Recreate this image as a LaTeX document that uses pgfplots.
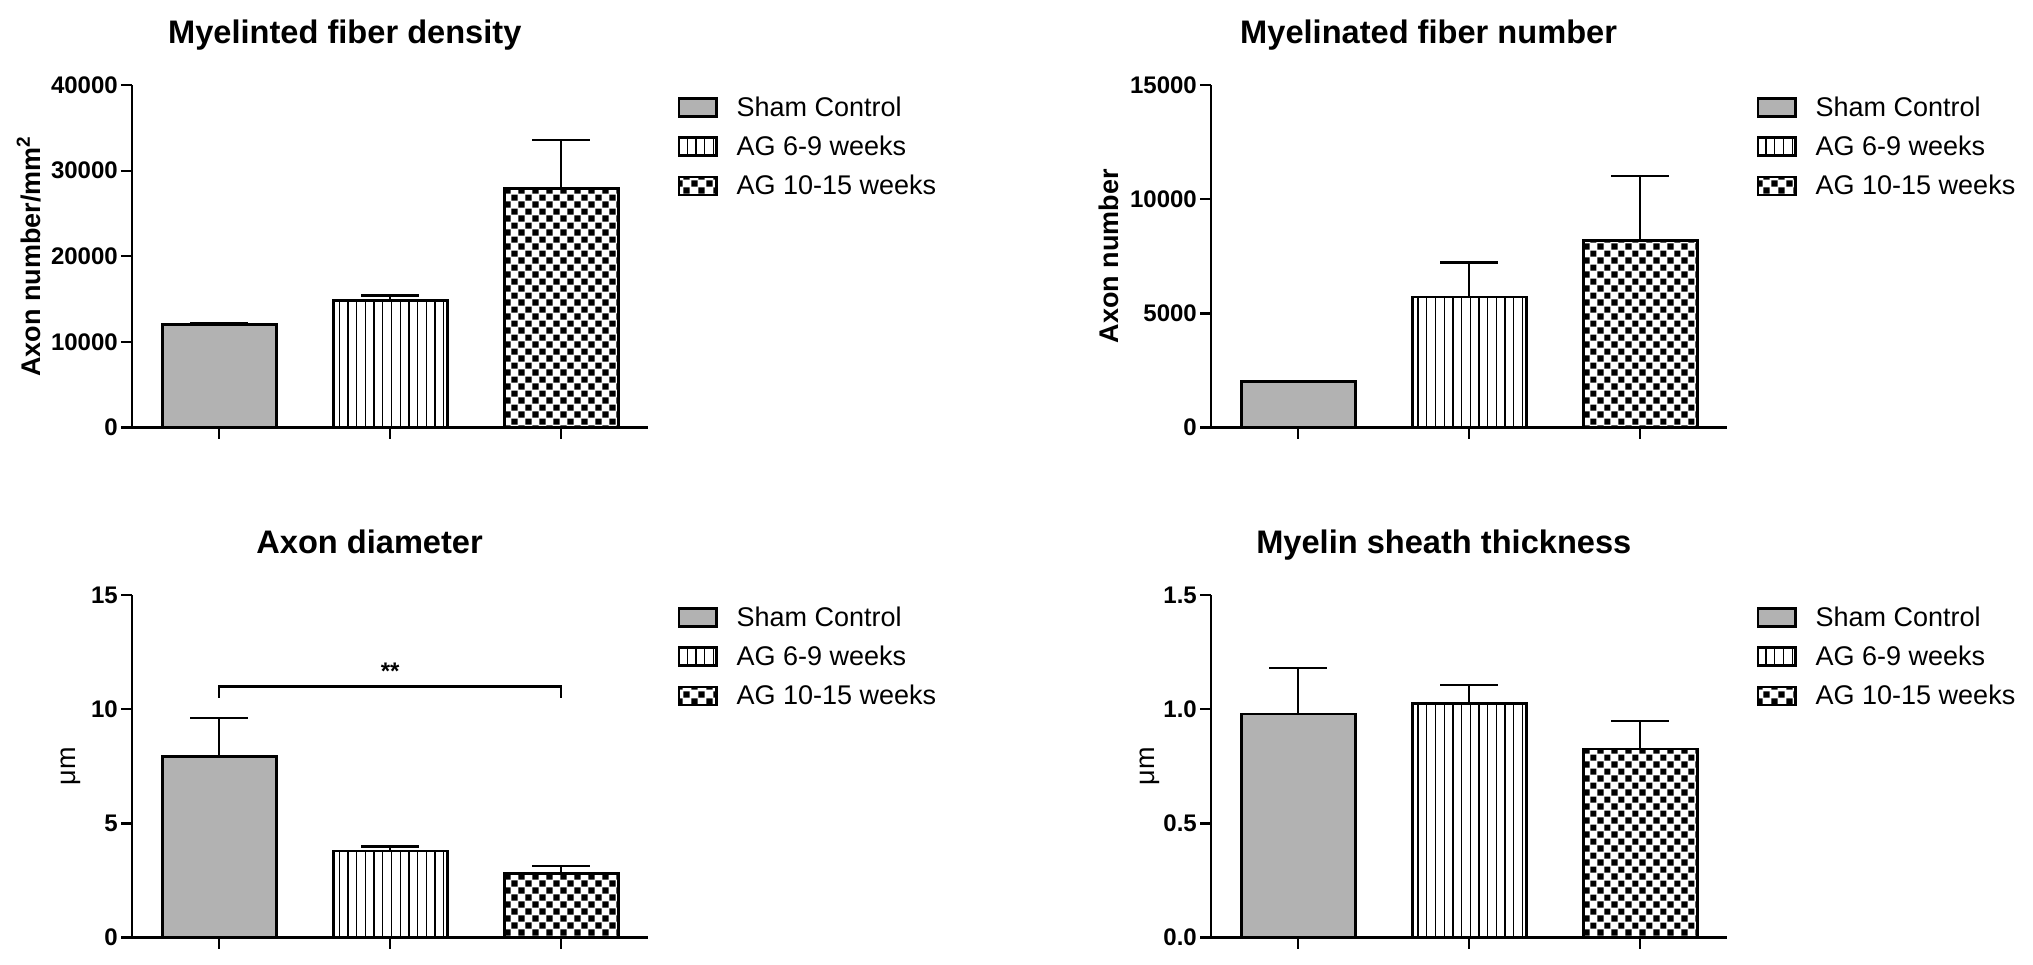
\documentclass[border=0pt]{standalone}
\usepackage{fontspec}
\setmainfont{Liberation Sans}
\usepackage{pgfplots}
\pgfplotsset{compat=1.18}
\usetikzlibrary{patterns}

\definecolor{shamgray}{RGB}{178,178,178}

\pgfdeclarepatternformonly{vlinesref}{\pgfqpoint{-1pt}{-1pt}}{\pgfqpoint{1pt}{5pt}}{\pgfqpoint{4.35pt}{4pt}}{%
  \pgfsetlinewidth{0.65pt}%
  \pgfpathmoveto{\pgfqpoint{0pt}{-1pt}}%
  \pgfpathlineto{\pgfqpoint{0pt}{5pt}}%
  \pgfusepath{stroke}}

\pgfdeclarepatternformonly{checkref}{\pgfqpoint{0pt}{0pt}}{\pgfqpoint{7.2pt}{7.2pt}}{\pgfqpoint{7.2pt}{7.2pt}}{%
  \pgfpathrectangle{\pgfqpoint{0.2pt}{0.2pt}}{\pgfqpoint{3.2pt}{3.2pt}}%
  \pgfpathrectangle{\pgfqpoint{3.8pt}{3.8pt}}{\pgfqpoint{3.2pt}{3.2pt}}%
  \pgfusepath{fill}}

\pgfplotsset{
  panel/.style={
    scale only axis, width=258.2pt, height=171.3pt,
    xmin=-0.51, xmax=2.51, ymin=0,
    axis lines*=left,
    axis line style={line width=1.3pt, black},
    x axis line style={shorten <=-5.5pt},
    xtick={0,1,2}, xticklabels={},
    tick align=outside, major tick length=5.5pt,
    every tick/.style={line width=1.1pt, black},
    tick label style={font=\fontsize{12}{14}\selectfont\bfseries},
    yticklabel style={inner sep=1.4pt},
    /pgf/number format/assume math mode=true,
    /pgf/number format/1000 sep={},
    scaled y ticks=false,
    ylabel style={anchor=center, font=\fontsize{13.5}{15}\selectfont\bfseries},
    title style={at={(axis description cs:0,1)}, anchor=base, yshift=14.85pt,
                 font=\fontsize{16.3}{19}\selectfont\bfseries},
    legend style={draw=none, fill=none, inner sep=0pt, outer sep=0pt,
      at={(axis description cs:1.0565,1)}, anchor=north west, yshift=-6pt,
      font=\fontsize{13.5}{16}\selectfont,
      row sep=8.3pt,
      nodes={inner sep=0pt},
      /tikz/every odd column/.append style={column sep=9.55pt}},
    legend cell align=left,
    clip=false,
  },
  barbase/.style={ybar, bar width=57pt, bar shift=0pt, draw=black, line width=1.35pt,
    legend image code/.code={\draw[##1, line width=1.35pt] (0pt,-4.1pt) rectangle (18.65pt,4.9pt);},
    /pgfplots/error bars/y dir=plus, /pgfplots/error bars/y explicit,
    /pgfplots/error bars/error bar style={line width=1.15pt, black, solid},
    /pgfplots/error bars/error mark options={rotate=90, line width=1.15pt, mark size=14.5pt, black, solid}},
  sham/.style={barbase, fill=shamgray},
  agA/.style={barbase, pattern=vlinesref, pattern color=black},
  agB/.style={barbase, pattern=checkref, pattern color=black},
}

\begin{document}
\begin{tikzpicture}
\useasboundingbox (0,0) rectangle (1016.5pt,482pt);

% ---------------- top left
\begin{axis}[panel, at={(66pt,268.15pt)}, anchor=south west,
  ymax=40000, ytick={0,10000,20000,30000,40000},
  title={Myelinted fiber density}, title style={xshift=106.4pt},
  ylabel={Axon number/mm\textsuperscript{2}},
  ylabel style={at={(axis description cs:-0.2,0.5)}}]
\addplot[sham] coordinates {(0,12043) +- (0,195)};
\addplot[agA] coordinates {(1,14858) +- (0,587)};
\addplot[agB] coordinates {(2,27957) +- (0,5670)};
\legend{Sham Control, AG 6-9 weeks, AG 10-15 weeks}
\end{axis}

% ---------------- top right
\begin{axis}[panel, at={(605.5pt,268.15pt)}, anchor=south west,
  ymax=15000, ytick={0,5000,10000,15000},
  title={Myelinated fiber number}, title style={xshift=108.8pt},
  ylabel={Axon number},
  ylabel style={at={(axis description cs:-0.197,0.5)}}]
\addplot[sham] coordinates {(0,2009) +- (0,0)};
\addplot[agA] coordinates {(1,5718) +- (0,1511)};
\addplot[agB] coordinates {(2,8182) +- (0,2844)};
\legend{Sham Control, AG 6-9 weeks, AG 10-15 weeks}
\end{axis}

% ---------------- bottom left
\begin{axis}[panel, at={(66pt,13.15pt)}, anchor=south west,
  ymax=15, ytick={0,5,10,15},
  title={Axon diameter}, title style={xshift=118.8pt},
  ylabel={μm},
  ylabel style={at={(axis description cs:-0.118,0.5)}, font=\fontsize{13.5}{15}\selectfont}]
\addplot[sham] coordinates {(0,7.94) +- (0,1.68)};
\addplot[agA] coordinates {(1,3.79) +- (0,0.20)};
\addplot[agB] coordinates {(2,2.81) +- (0,0.33)};
\addplot[black, line width=1.1pt, sharp plot, mark=none, forget plot] coordinates {(0,10.5) (0,11) (2,11) (2,10.5)};
\node[anchor=base, font=\fontsize{12}{14}\selectfont\bfseries] at (axis cs:1,11.32) {**};
\legend{Sham Control, AG 6-9 weeks, AG 10-15 weeks}
\end{axis}

% ---------------- bottom right
\begin{axis}[panel, at={(605.5pt,13.15pt)}, anchor=south west,
  ymax=1.5, ytick={0,0.5,1,1.5},
  yticklabel style={/pgf/number format/.cd, fixed, fixed zerofill, precision=1},
  title={Myelin sheath thickness}, title style={xshift=116.4pt},
  ylabel={μm},
  ylabel style={at={(axis description cs:-0.118,0.5)}, font=\fontsize{13.5}{15}\selectfont}]
\addplot[sham] coordinates {(0,0.980) +- (0,0.201)};
\addplot[agA] coordinates {(1,1.025) +- (0,0.080)};
\addplot[agB] coordinates {(2,0.826) +- (0,0.122)};
\legend{Sham Control, AG 6-9 weeks, AG 10-15 weeks}
\end{axis}
\end{tikzpicture}
\end{document}
